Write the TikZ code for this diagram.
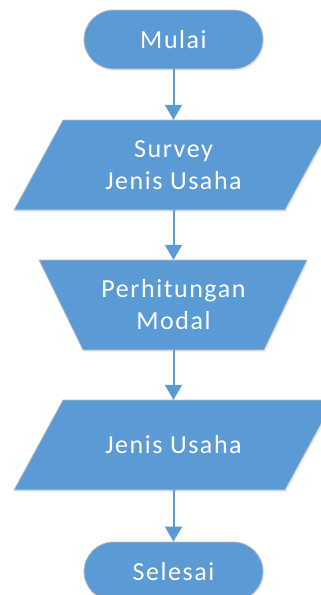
\documentclass[tikz,border=0pt]{standalone}
\usepackage{fontspec}
\setmainfont{Carlito}[LetterSpace=6]
\usetikzlibrary{arrows.meta,shadows}
\definecolor{boxblue}{HTML}{5B9BD5}
\definecolor{edgegray}{HTML}{BFBFBF}
\begin{document}
\begin{tikzpicture}[x=1pt,y=-1pt,
  shapefill/.style={fill=boxblue, draw=edgegray, line width=0.8pt,
    drop shadow={opacity=0.12,shadow xshift=1.5pt,shadow yshift=-2pt}},
  term/.style={shapefill, rounded corners=29.5pt, minimum width=179pt,
    minimum height=59pt, inner sep=0pt},
  lbl/.style={text=white, font=\fontsize{26}{32}\selectfont, align=center, inner sep=0pt},
  arr/.style={draw=boxblue, line width=2pt, -{Triangle[width=17pt,length=15pt]}}]
\clip (0,0) rectangle (321,595);
% shapes
\path[shapefill] (63,120) -- (334,120) -- (285,210) -- (14,210) -- cycle;
\path[shapefill] (39,260) -- (307,260) -- (264,350) -- (83,350) -- cycle;
\path[shapefill] (63,400) -- (334,400) -- (285,490) -- (14,490) -- cycle;
% nodes
\node[term, lbl] (start) at (173.5,39.5) {Mulai};
\node[lbl, minimum height=90pt] (survey) at (173.5,165) {Survey\\Jenis Usaha};
\node[lbl, minimum height=90pt] (modal) at (173.5,305) {Perhitungan\\Modal};
\node[lbl, minimum height=90pt] (jenis) at (173.5,445) {Jenis Usaha};
\node[term, lbl] (end) at (173.5,571.5) {Selesai};
% connectors
\draw[arr] (start) -- (survey);
\draw[arr] (survey) -- (modal);
\draw[arr] (modal) -- (jenis);
\draw[arr] (jenis) -- (end);
\end{tikzpicture}
\end{document}
